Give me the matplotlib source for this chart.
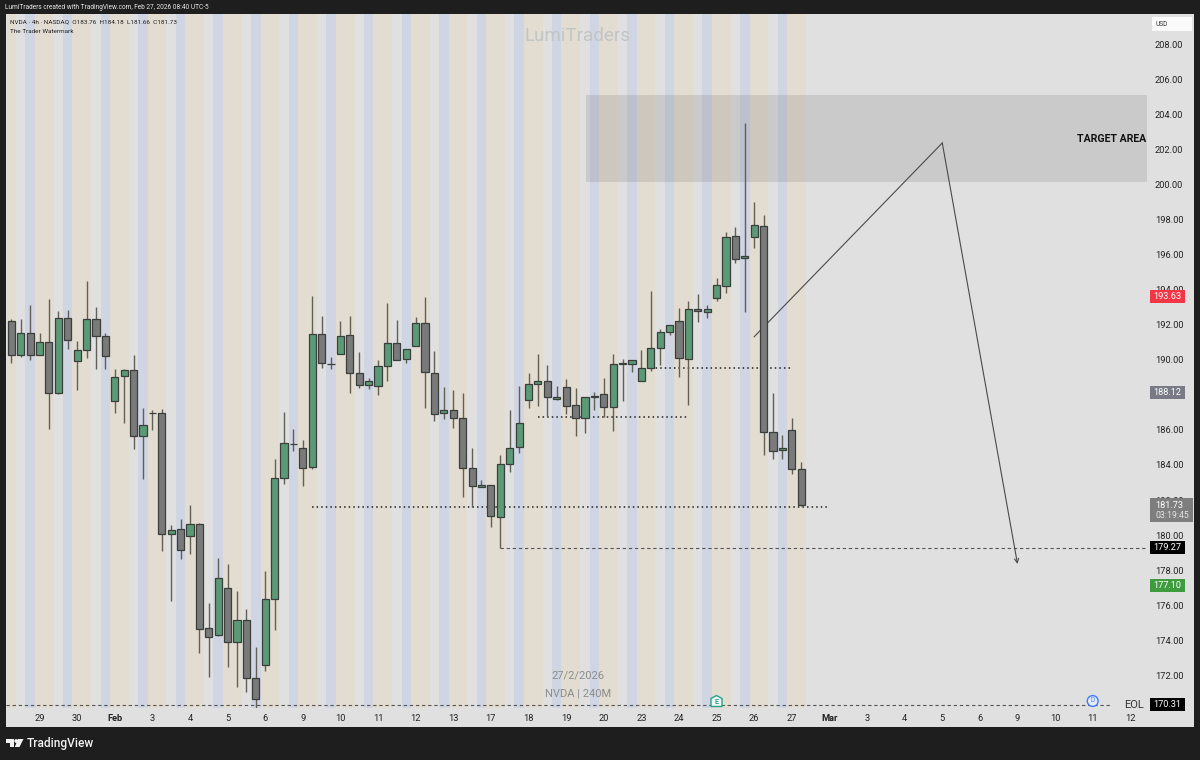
import matplotlib
matplotlib.use("Agg")
import matplotlib.pyplot as plt
from matplotlib.patches import Rectangle, Polygon, Circle

plt.rcParams['font.family'] = ['Roboto', 'DejaVu Sans']

# NVDA 4h candles
opens = [192.24, 190.26, 191.51, 190.26, 191.02, 188.09, 192.41, 189.95, 190.56, 192.31,
         191.36, 187.63, 189.08, 189.40, 185.67, 186.96, 186.95, 180.06, 180.32, 179.96,
         180.61, 174.67, 174.29, 176.97, 173.89, 175.18, 171.87, 172.60, 176.33, 183.26,
         185.22, 184.99, 183.88, 191.46, 189.75, 190.35, 191.40, 189.27, 188.58, 188.53,
         189.63, 190.94, 190.03, 190.81, 192.09, 189.27, 186.95, 187.16, 186.68, 183.85,
         182.76, 182.84, 181.05, 184.08, 185.03, 187.69, 188.62, 188.77, 187.79, 188.43,
         187.40, 186.68, 187.92, 188.07, 187.29, 189.80, 189.78, 188.81, 189.55, 190.68,
         191.61, 192.24, 190.07, 192.90, 192.75, 193.55, 194.23, 197.07, 195.79, 196.99,
         197.62, 185.88, 184.85, 185.98, 183.76]
closes = [190.26, 191.51, 190.26, 191.02, 188.11, 192.41, 191.11, 190.56, 192.31, 191.36,
          190.22, 189.04, 189.42, 185.67, 186.26, 186.95, 180.08, 180.27, 179.12, 180.61,
          174.65, 174.16, 177.53, 173.91, 175.18, 171.85, 170.67, 176.33, 183.23, 185.27,
          185.20, 183.81, 191.46, 189.80, 189.74, 191.36, 189.27, 188.58, 188.81, 189.67,
          190.94, 190.01, 190.60, 192.11, 189.31, 186.89, 187.14, 186.68, 183.85, 182.78,
          182.86, 181.07, 184.06, 184.99, 186.38, 188.62, 188.77, 187.86, 187.90, 187.37,
          186.68, 187.88, 187.90, 187.33, 189.76, 189.78, 189.99, 189.55, 190.68, 191.61,
          191.97, 190.09, 192.90, 192.79, 192.90, 194.25, 197.03, 195.73, 195.92, 197.68,
          185.88, 184.82, 184.97, 183.75, 181.73]
highs = [192.31, 192.31, 193.11, 191.51, 193.47, 192.77, 192.85, 191.09, 194.48, 193.00,
         191.51, 189.46, 189.50, 190.30, 187.23, 187.14, 187.21, 180.57, 180.89, 181.71,
         180.67, 176.15, 178.70, 178.36, 176.82, 175.76, 173.62, 177.94, 184.36, 187.00,
         186.05, 185.43, 193.67, 192.52, 190.18, 192.20, 192.49, 190.43, 188.95, 189.99,
         193.25, 192.28, 190.60, 192.43, 193.59, 190.50, 188.43, 188.30, 188.13, 184.95,
         183.14, 182.84, 184.57, 187.14, 188.50, 189.23, 190.35, 189.69, 188.49, 188.89,
         188.41, 187.88, 188.18, 188.95, 190.32, 190.07, 189.99, 190.58, 193.93, 191.74,
         191.97, 192.96, 193.34, 193.76, 193.11, 194.67, 197.31, 197.60, 203.50, 198.99,
         198.25, 188.09, 185.71, 186.66, 184.18]
lows = [189.84, 190.18, 190.00, 190.26, 186.07, 188.05, 190.62, 188.28, 190.11, 189.48,
        189.50, 186.98, 186.41, 184.89, 183.22, 186.00, 179.11, 176.25, 178.63, 178.91,
        173.26, 171.91, 174.23, 172.48, 171.32, 171.05, 170.12, 172.27, 174.61, 182.93,
        184.82, 182.82, 183.79, 189.54, 189.50, 190.35, 188.13, 188.41, 188.34, 187.99,
        188.81, 190.00, 189.80, 190.81, 187.27, 186.53, 186.62, 186.11, 182.19, 181.58,
        182.76, 180.48, 179.24, 183.60, 184.66, 187.25, 187.35, 186.78, 187.69, 186.91,
        185.67, 185.81, 187.14, 186.76, 185.96, 187.63, 189.31, 188.81, 189.38, 189.73,
        191.44, 189.04, 187.42, 192.16, 192.41, 193.35, 193.79, 195.51, 192.71, 196.38,
        184.57, 184.32, 184.32, 183.48, 181.66]

day_labels = ['29', '30', 'Feb', '3', '4', '5', '6', '9', '10', '11', '12', '13', '17', '18', '19',
              '20', '23', '24', '25', '26', '27', 'Mar', '3', '4', '5', '6', '9', '10', '11', '12']
# 188 sits fully under its price tag in the picture
price_ticks = [172, 174, 176, 178, 180, 182, 184, 186, 190, 192, 194, 196, 198, 200, 202, 204, 206, 208]

# drawn levels: (bar start, bar end, price)
dotted_levels = [(32, 87, 181.58), (56, 72, 186.76), (68, 83, 189.55)]
stop_level = 179.27
eol_level = 170.31
zone_top, zone_bottom = 205.1, 200.15
zone_start = 61.1
path_bars = [79, 99, 107]
path_prices = [191.32, 202.38, 178.35]

# price tags on the axis: value, background
price_tags = [(193.63, '#F23645'), (188.12, '#787B86'), (179.27, '#000000'),
              (177.10, '#3E9C3E'), (170.31, '#000000')]

BG = '#1E1E1E'
PANEL = '#E0E0E0'
BEIGE = '#E3DCD1'
BLUE = '#D0D5E3'
GREEN = '#5B9A76'
GRAY = '#7A7A7A'
EDGE = '#3A3F3C'
WICK = '#625F56'
W, H = 1200, 760


def fx(px):
    return px / W


def fy(px):
    return 1 - px / H


fig = plt.figure(figsize=(12, 7.6), dpi=100, facecolor=BG)
fig.patches.append(Rectangle((fx(5.5), fy(727)), fx(1188.5), (727 - 14) / H, transform=fig.transFigure,
                             facecolor=PANEL, edgecolor='none', zorder=-5))

ax = fig.add_axes([fx(6), fy(708), fx(1141), (708 - 14) / H])
ax.patch.set_alpha(0)
ax.set_xlim(-0.564, 120.77)
ax.set_ylim(170.13, 209.74)
for s in ax.spines.values():
    s.set_visible(False)

# session stripes, one per bar
n = len(opens)
for i in range(n):
    k = i % 4
    if k == 1:
        continue
    c = BLUE if k == 2 else BEIGE
    ax.axvspan(i - 0.5, i + 0.5, color=c, lw=0, zorder=1)

ax.add_patch(Rectangle((zone_start, zone_bottom), 120.77 - zone_start, zone_top - zone_bottom,
                       facecolor='#505050', alpha=0.15, edgecolor='none', zorder=2))

# levels + projected path
for a, b, p in dotted_levels:
    ax.plot([a, b], [p, p], color='#222222', lw=1.1, ls=(0, (1, 2)), zorder=3)
ax.plot([52, 120.77], [stop_level, stop_level], color='#555555', lw=0.8, ls=(0, (3, 2.5)), zorder=3)
ax.plot([-0.564, 116.8], [eol_level, eol_level], color='#555555', lw=0.8, ls=(0, (3, 2.5)), zorder=3)
ax.plot(path_bars[:2], path_prices[:2], color='#4A4A4A', lw=0.8, zorder=3)
ax.annotate('', xy=(path_bars[2], path_prices[2]), xytext=(path_bars[1], path_prices[1]),
            arrowprops=dict(arrowstyle='->,head_length=0.3,head_width=0.15', color='#4A4A4A', lw=0.8,
                            shrinkA=0, shrinkB=0), zorder=3)

# candles
xs = list(range(n))
ax.vlines(xs, lows, highs, color=WICK, lw=1.0, zorder=4)
bottoms = [min(o, c) for o, c in zip(opens, closes)]
heights = [abs(c - o) for o, c in zip(opens, closes)]
colors = [GREEN if c >= o else GRAY for o, c in zip(opens, closes)]
ax.bar(xs, heights, bottom=bottoms, width=0.76, color=colors, edgecolor=EDGE, linewidth=0.9, zorder=5)

# axes labels
ax.yaxis.tick_right()
ax.set_yticks(price_ticks, [f'{p:.2f}' for p in price_ticks])
ax.set_xticks([3 + 4 * i for i in range(len(day_labels))], day_labels)
ax.tick_params(axis='both', length=0, labelsize=6.7, labelcolor='#222222')
ax.tick_params(axis='y', pad=5.8)
ax.tick_params(axis='x', pad=4.6)
for lab in ax.get_xticklabels():
    if lab.get_text() in ('Feb', 'Mar'):
        lab.set_fontweight('bold')

# tags on the price scale
for val, col in price_tags:
    y_px = 44.5 + (208 - val) * 17.52
    fig.patches.append(Rectangle((fx(1150), fy(y_px + 6.5)), fx(34.5), 13 / H, transform=fig.transFigure,
                                 facecolor=col, edgecolor='none', zorder=7))
    fig.text(fx(1167.5), fy(y_px), f'{val:.2f}', color='white', fontsize=6.6, ha='center', va='center', zorder=8)

# last price tag with countdown
fig.patches.append(Rectangle((fx(1150), fy(521.5)), fx(42.5), 23.5 / H, transform=fig.transFigure,
                             facecolor='#7E7E7E', edgecolor='none', zorder=7))
fig.text(fx(1155.7), fy(505), '181.73', color='white', fontsize=6.6, ha='left', va='center', zorder=8)
fig.text(fx(1155), fy(515.5), '03:19:45', color='#E4E4E4', fontsize=6.3, ha='left', va='center', zorder=8)

# USD box
fig.patches.append(Rectangle((fx(1151.7), fy(30.7)), fx(40.3), 14 / H, transform=fig.transFigure,
                             facecolor='#FAFAFA', edgecolor='none', zorder=-1))
fig.text(fx(1156), fy(24), 'USD', color='#333333', fontsize=4.8, ha='left', va='center', zorder=8)

# header and legend
fig.text(fx(5), fy(7.5), 'LumiTraders created with TradingView.com, Feb 27, 2026 08:40 UTC-5',
         color='#E8E8E8', fontsize=4.7, va='center')
fig.text(fx(10), fy(22), 'NVDA · 4h · NASDAQ  O183.76  H184.18  L181.66  C181.73',
         color='#222222', fontsize=4.55, va='center')
fig.text(fx(10), fy(31.5), 'The Trader Watermark', color='#222222', fontsize=4.55, va='center')

# watermark and annotations
fig.text(fx(578), fy(36), 'LumiTraders', color='#C2C5C5', fontsize=13.6, ha='center', va='center')
fig.text(fx(578), fy(675.5), '27/2/2026', color='#8C8C8C', fontsize=8, ha='center', va='center')
fig.text(fx(578), fy(694), 'NVDA | 240M', color='#8C8C8C', fontsize=8, ha='center', va='center')
fig.text(fx(1146), fy(139), 'TARGET AREA', color='#111111', fontsize=7.6, fontweight='bold', ha='right', va='center')
fig.text(fx(1134), fy(705), 'EOL', color='#333333', fontsize=8, ha='center', va='center')

# earnings and dividend markers
house = [(716.5, 695.5), (722, 698.5), (722, 706.5), (711, 706.5), (711, 698.5)]
fig.patches.append(Polygon([(fx(a), fy(b)) for a, b in house], closed=True, transform=fig.transFigure,
                           facecolor='#F2F7F5', edgecolor='#1FA58A', linewidth=1, zorder=8))
fig.text(fx(716.5), fy(701.5), 'E', color='#1FA58A', fontsize=5, fontweight='bold', ha='center', va='center', zorder=9)
# circle in pixel space so it stays round
fig.patches.append(Circle((1092.7, H - 701), 5.4, transform=None, facecolor='#E6ECFA', edgecolor='#3F7BFF',
                          linewidth=1, zorder=8))
fig.text(fx(1092.7), fy(701), 'D', color='#3F7BFF', fontsize=4.8, ha='center', va='center', zorder=9)

# TradingView footer
for pts in ([(6, 739), (14.2, 739), (14.2, 747), (10, 747), (10, 743), (6, 743)],
            [(18, 739), (23.5, 739), (19.5, 747), (14.8, 747)]):
    fig.patches.append(Polygon([(fx(a), fy(b)) for a, b in pts], closed=True, transform=fig.transFigure,
                               facecolor='#F2F2F2', edgecolor='none'))
fig.patches.append(Circle((16.2, H - 741), 1.9, transform=None, facecolor='#F2F2F2', edgecolor='none'))
fig.text(fx(27), fy(743), 'TradingView', color='#F2F2F2', fontsize=8.6, fontweight='medium', va='center')

fig.savefig('out.png', dpi=100, facecolor=BG)
